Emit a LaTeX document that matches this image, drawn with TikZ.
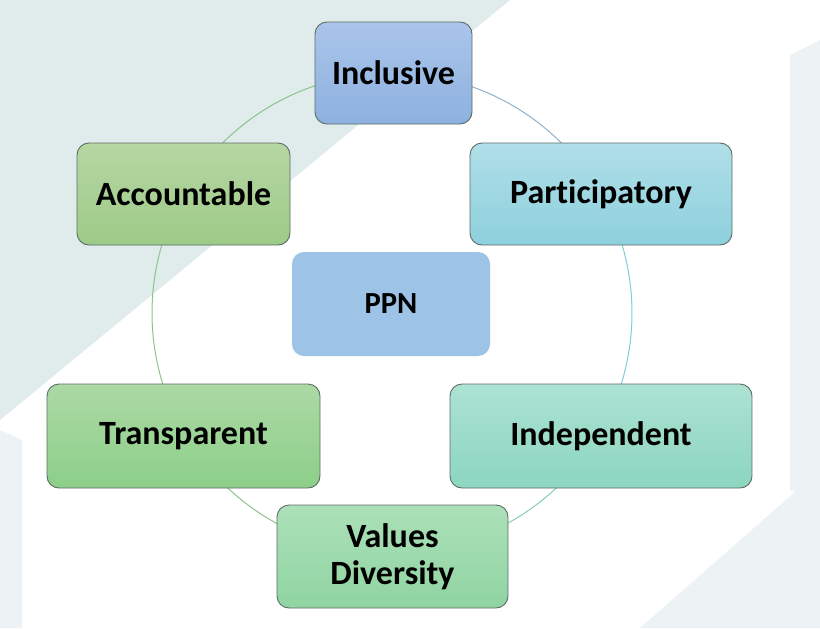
\documentclass[tikz,border=0pt]{standalone}
\usepackage{fontspec}
\setmainfont[Ligatures={NoCommon}]{Carlito}
\newlength{\pxu}\setlength{\pxu}{0.75pt}
\definecolor{bgtint}{HTML}{E0EBEB}
\definecolor{bgtintb}{HTML}{EDF3F4}
\definecolor{boxline}{HTML}{5E6C66}
\definecolor{incTop}{HTML}{AAC5EA}\definecolor{incBot}{HTML}{8DB1DF}
\definecolor{parTop}{HTML}{B0DFE8}\definecolor{parBot}{HTML}{8DD0DD}
\definecolor{accTop}{HTML}{B6D6A2}\definecolor{accBot}{HTML}{9DCB88}
\definecolor{ppnFill}{HTML}{9DC3E6}
\definecolor{traTop}{HTML}{ACD9A4}\definecolor{traBot}{HTML}{8CCF89}
\definecolor{indTop}{HTML}{ACE2D2}\definecolor{indBot}{HTML}{8CD6BF}
\definecolor{valTop}{HTML}{ACE0B8}\definecolor{valBot}{HTML}{8FD4A2}
\definecolor{ringGreen}{HTML}{8CC48C}
\definecolor{ringBlue}{HTML}{8FB3C9}
\definecolor{ringTeal}{HTML}{7FCFD8}
\definecolor{ringMint}{HTML}{88CDB5}
\begin{document}
\begin{tikzpicture}[x=0.75pt,y=-0.75pt,
  box/.style={rounded corners=12\pxu, draw=boxline, line width=0.9\pxu, inner sep=0pt,
    font=\fontsize{25.5}{27.75}\selectfont\bfseries, align=center, text=black},
  ring/.style={line width=1\pxu}]
\useasboundingbox (0,0) rectangle (820,628);
\fill[white] (0,0) rectangle (820,628);
% faint background watermark shapes
\fill[bgtint] (0,0) -- (510,0) -- (0,420) -- cycle;
\fill[bgtintb] (790,55) -- (820,40) -- (820,500) -- (790,490) -- cycle;
\fill[bgtintb] (640,628) -- (820,470) -- (820,628) -- cycle;
\fill[bgtintb] (0,430) -- (22,440) -- (22,628) -- (0,628) -- cycle;
% ring
\draw[ring, ringGreen] plot[smooth, domain=90:270, samples=80] ({392+240*cos(\x)},{313+240*sin(\x)});
\draw[ring, ringBlue] plot[smooth, domain=270:330, samples=30] ({392+240*cos(\x)},{313+240*sin(\x)});
\draw[ring, ringTeal] plot[smooth, domain=330:390, samples=30] ({392+240*cos(\x)},{313+240*sin(\x)});
\draw[ring, ringMint] plot[smooth, domain=390:450, samples=30] ({392+240*cos(\x)},{313+240*sin(\x)});
% nodes
\node[box, top color=incTop, bottom color=incBot, minimum width=157\pxu, minimum height=102\pxu] (inc) at (393.5,73) {Inclusive};
\node[box, top color=parTop, bottom color=parBot, minimum width=262\pxu, minimum height=102\pxu] (par) at (601,194) {Participatory};
\node[box, top color=accTop, bottom color=accBot, minimum width=213\pxu, minimum height=102\pxu] (acc) at (183.5,194) {Accountable};
\node[box, draw=none, fill=ppnFill, minimum width=198\pxu, minimum height=104\pxu, font=\fontsize{23}{26}\selectfont\bfseries] (ppn) at (391,304) {PPN};
\node[box, top color=traTop, bottom color=traBot, minimum width=273\pxu, minimum height=104\pxu] (tra) at (183.5,436) {Transparent};
\node[box, top color=indTop, bottom color=indBot, minimum width=302\pxu, minimum height=104\pxu] (ind) at (601,436) {Independent};
\node[box, top color=valTop, bottom color=valBot, minimum width=231\pxu, minimum height=103\pxu] (val) at (392.5,556.5) {Values\\Diversity};
\end{tikzpicture}
\end{document}
